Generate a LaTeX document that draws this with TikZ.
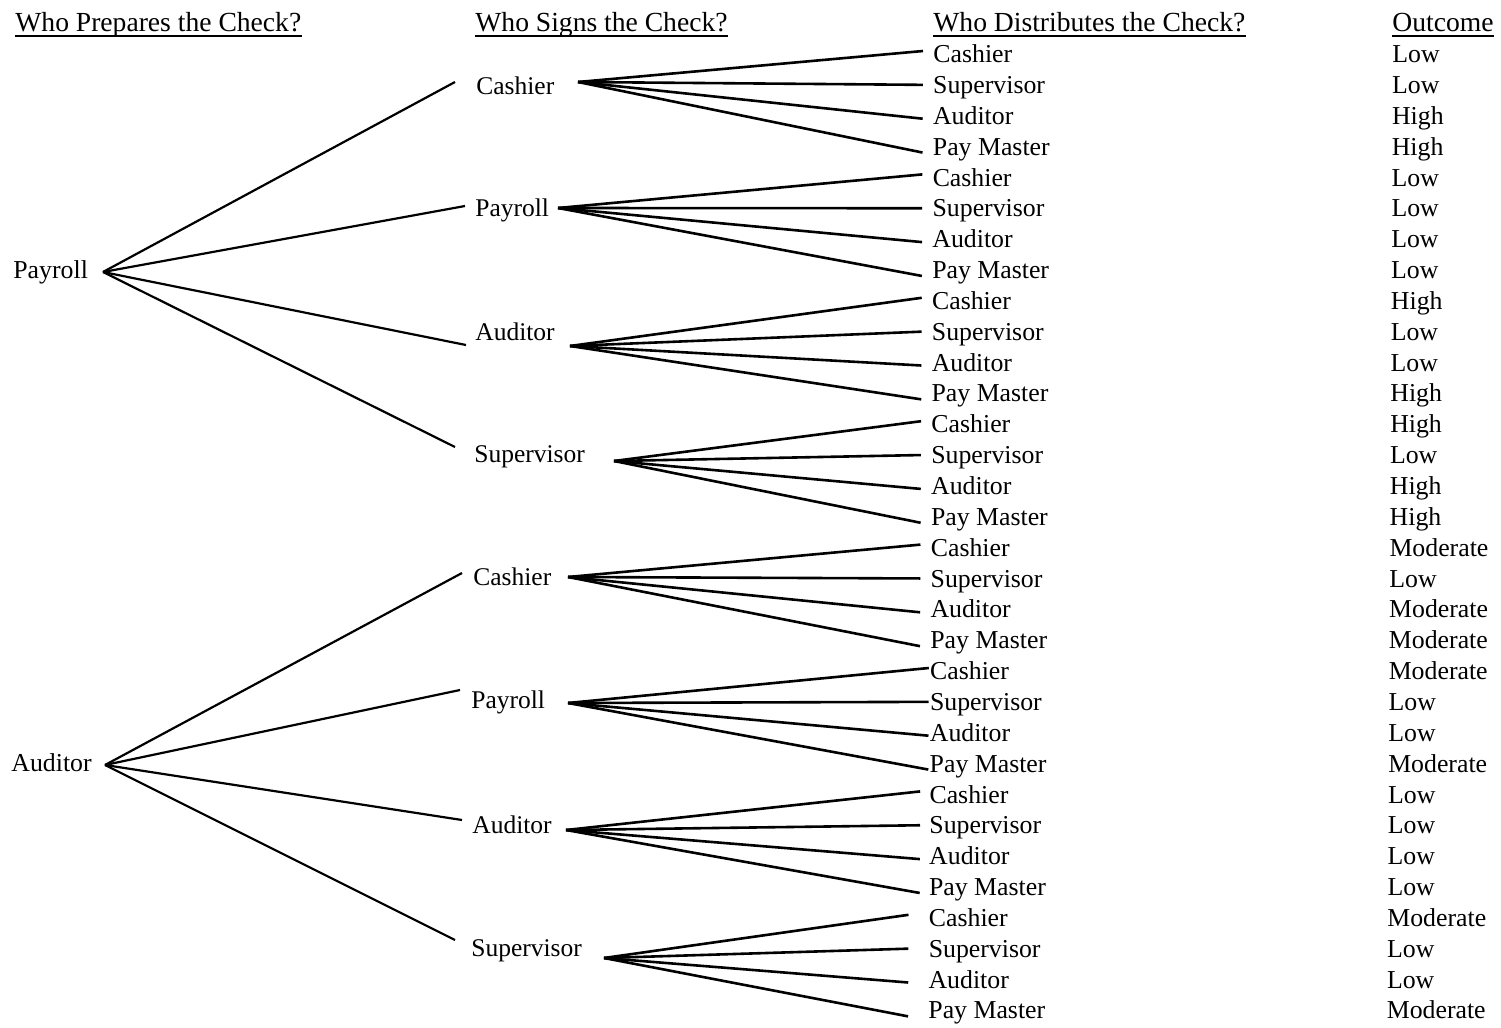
\documentclass[tikz,border=0pt]{standalone}
\usepackage{fontspec}
\setmainfont{Liberation Serif}
\begin{document}
\begin{tikzpicture}[x=0.5pt,y=-0.5pt,
  txt/.style={anchor=west,inner sep=0pt,text height=0.66em,text depth=0pt,yshift=-1pt},
  hdr/.style={anchor=base west,inner sep=0pt,font=\fontsize{13.8}{15}\selectfont},
  lvone/.style={txt,font=\fontsize{12.9}{14}\selectfont},
  lvtwo/.style={txt,font=\fontsize{12.75}{14}\selectfont},
  leaf/.style={txt,font=\fontsize{12.9}{14}\selectfont},
  outc/.style={txt,font=\fontsize{12.9}{14}\selectfont},
  branch/.style={line width=1.1pt},
  fan/.style={line width=1.3pt},
  uline/.style={line width=0.9pt}]
\useasboundingbox (0,0) rectangle (1501,1028);
% headers
\node[hdr] (h1) at (15,32) {Who Prepares the Check?};
\node[hdr] (h2) at (475,32) {Who Signs the Check?};
\node[hdr] (h3) at (933,32) {Who Distributes the Check?};
\node[hdr] (h4) at (1392,32) {Outcome};
\foreach \h in {h1,h2,h3,h4}
  \draw[uline] ([yshift=-2pt]\h.base west) -- ([yshift=-2pt]\h.base east);
% level 1
\node[lvone] (r1) at (13,270) {Payroll};
\node[lvone] (r2) at (11,763) {Auditor};
\coordinate (vr1) at (103,272);
\coordinate (vr2) at (105,765);
% level 2
\foreach \n/\lab/\tx/\ty/\ix/\iy/\vx/\vy/\pp in {
 1/Cashier/476/86/455/82/578/82/1,
 2/Payroll/475/208/465/206/558/208/1,
 3/Auditor/475/332/466/345/570/346/1,
 4/Supervisor/474/454/455/447/614/461/1,
 5/Cashier/473/577/462/573/568/577/2,
 6/Payroll/471/700/460/690/568/703/2,
 7/Auditor/472/825/462/820/566/830/2,
 8/Supervisor/471/948/455/940/604/958/2}{
  \node[lvtwo] (s\n) at (\tx,\ty) {\lab};
  \coordinate (in\n) at (\ix,\iy);
  \coordinate (v\n) at (\vx,\vy);
  \draw[branch] (vr\pp) -- (in\n);
}
% level 3 leaves and fans
\foreach \g in {0,...,7}{
  \foreach \k/\lab in {0/Cashier,1/Supervisor,2/Auditor,3/Pay Master}{
    \pgfmathtruncatemacro\i{4*\g+\k}
    \pgfmathtruncatemacro\gn{\g+1}
    \pgfmathsetmacro\gp{{10,10,10,10,10,1,9,20}[\g]}
    \pgfmathsetmacro\dy{{2.5,1,-0.5,-2}[\k]}
    \node[leaf] (l\i) at ({933-0.16*\i},{54+30.85*\i}) {\lab};
    \draw[fan] (v\gn) -- ([xshift={-\gp*0.5pt},yshift={\dy*1pt}]l\i.west);
  }
}
% outcomes
\foreach \i/\lab in {0/Low,1/Low,2/High,3/High,4/Low,5/Low,6/Low,7/Low,
 8/High,9/Low,10/Low,11/High,12/High,13/Low,14/High,15/High,
 16/Moderate,17/Low,18/Moderate,19/Moderate,20/Moderate,21/Low,22/Low,23/Moderate,
 24/Low,25/Low,26/Low,27/Low,28/Moderate,29/Low,30/Low,31/Moderate}
  \node[outc] (o\i) at ({1392-0.18*\i},{54+30.85*\i}) {\lab};
\end{tikzpicture}
\end{document}
